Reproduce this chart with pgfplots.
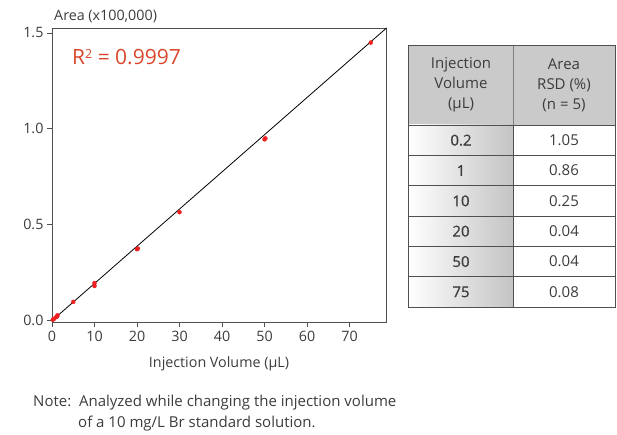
\documentclass[border=0pt]{standalone}
\usepackage{pgfplots}
\pgfplotsset{compat=1.18}
\usepackage{fontspec}
\setmainfont{Open Sans}
\newfontfamily\semib[FakeBold=0.6]{Open Sans}
\definecolor{txt}{HTML}{3C3C3C}
\definecolor{axc}{HTML}{505050}
\definecolor{rtxt}{HTML}{D9472B}
\definecolor{dot}{HTML}{EE2020}
\definecolor{hdr}{HTML}{CACACA}
\definecolor{grd}{HTML}{C4C4C4}
\begin{document}
\begin{tikzpicture}[x=1pt,y=1pt]
\path[use as bounding box] (0,0) rectangle (617,434);
\begin{axis}[
  at={(52pt,112pt)}, anchor=south west,
  scale only axis, width=334.5pt, height=294pt,
  xmin=0, xmax=78.7, ymin=-0.008, ymax=1.526,
  axis line style={axc, line width=0.8pt},
  tick style={axc, line width=0.8pt},
  tick align=outside, major tick length=5pt,
  xtick={0,10,...,70}, ytick={0,0.5,1,1.5},
  xtick pos=bottom, ytick pos=left,
  /pgf/number format/assume math mode=true,
  yticklabel style={/pgf/number format/fixed, /pgf/number format/fixed zerofill, /pgf/number format/precision=1},
  ticklabel style={font=\fontsize{14.3}{16}\selectfont, text=txt},
  xticklabel style={yshift=-1pt},
  clip=false,
]
\addplot[black, line width=0.8pt] coordinates {(0.3,0.005) (78.7,1.526)};
\addplot[only marks, mark=*, mark size=2pt, dot, mark options={draw=dot, fill=dot}] coordinates {
 (0.2,0.004) (0.5,0.009) (1,0.018) (1.2,0.021) (1.3,0.027)
 (5,0.097) (10,0.18) (10,0.195) (20,0.372) (20.2,0.375) (30,0.565)
 (50,0.945) (50.2,0.95) (75,1.45)};
\end{axis}
% titles
\node[anchor=west, text=txt, font=\fontsize{14.3}{16}\selectfont, inner sep=0] at (54,418) {Area (x100,000)};
\node[text=txt, font=\fontsize{14.3}{16}\selectfont, inner sep=0] at (219,70) {Injection Volume (µL)};
\node[anchor=west, text=rtxt, font=\fontsize{21}{25}\selectfont, inner sep=0] at (72,377) {R\raisebox{6pt}{\fontsize{12.5}{13}\selectfont 2} = 0.9997};
% note
\node[anchor=west, text=txt, font=\fontsize{15}{18}\selectfont, inner sep=0] at (33,31) {Note:\ \ Analyzed while changing the injection volume};
\node[anchor=west, text=txt, font=\fontsize{15}{18}\selectfont, inner sep=0] at (78,10) {of a 10 mg/L Br standard solution.};
% table
\fill[hdr] (408,309) rectangle (615,389);
\foreach \k in {0,...,5} {
  \shade[left color=white, right color=grd] (408,{309-30.33*\k}) rectangle (513,{309-30.33*(\k+1)});
}
\foreach \k in {1,...,5} {
  \draw[axc, line width=0.8pt] (408,{309-30.33*\k}) -- (615,{309-30.33*\k});
}
\draw[axc, line width=0.8pt] (408,309) -- (615,309);
\draw[gray, line width=0.8pt] (513,389) -- (513,309);
\draw[axc, line width=0.8pt] (513,309) -- (513,127);
\draw[axc, line width=0.8pt] (408,127) rectangle (615,389);
\node[align=center, text=txt, font=\fontsize{15}{20}\selectfont, inner sep=0] at (461,349) {Injection\\Volume\\(µL)};
\node[align=center, text=txt, font=\fontsize{15}{20}\selectfont, inner sep=0] at (564,349) {Area\\RSD (\%)\\(n = 5)};
\foreach \a/\b [count=\i from 0] in {0.2/1.05, 1/0.86, 10/0.25, 20/0.04, 50/0.04, 75/0.08} {
  \node[text=txt, font=\fontsize{15}{18}\semib, inner sep=0] at (461,{309-30.33*\i-15.2}) {\a};
  \node[text=txt, font=\fontsize{15}{18}\selectfont, inner sep=0] at (564,{309-30.33*\i-15.2}) {\b};
}
\end{tikzpicture}
\end{document}
